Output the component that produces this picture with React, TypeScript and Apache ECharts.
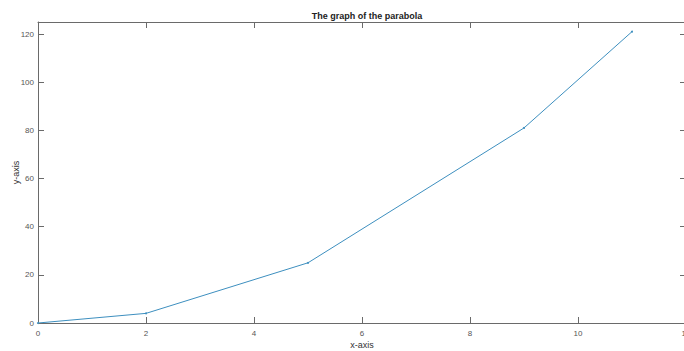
import React, { useEffect, useRef } from "react";
import * as echarts from "echarts";

const xValues = [0, 2, 5, 9, 11];
const yValues = [0, 4, 25, 81, 121];
const titleText = "The graph of the parabola";
const xName = "x-axis";
const yName = "y-axis";

export default function App() {
  const ref = useRef<HTMLDivElement>(null);
  useEffect(() => {
    if (!ref.current) return;
    const chart = echarts.init(ref.current, undefined, { renderer: "svg" });
    const axisLine = { show: true, onZero: false, lineStyle: { color: "#6a6a6a", width: 1 } };
    const tick = { show: true, inside: true, length: 6, lineStyle: { color: "#6a6a6a", width: 1 } };
    const font = "Liberation Sans, Arial, Helvetica, sans-serif";
    chart.setOption({
      animation: false,
      backgroundColor: "#ffffff",
      title: {
        text: titleText,
        left: 362,
        top: 6,
        textAlign: "center",
        textStyle: { fontSize: 9, fontWeight: "bold", color: "#222", fontFamily: font },
      },
      grid: {
        left: 38,
        top: 22,
        width: 648,
        height: 301,
        containLabel: false,
        outerBoundsMode: "none",
      },
      xAxis: [
        {
          type: "value",
          min: 0,
          max: 12,
          interval: 2,
          position: "bottom",
          axisLine,
          axisTick: tick,
          splitLine: { show: false },
          axisLabel: { fontSize: 8, color: "#555", margin: 6, fontFamily: font },
          name: xName,
          nameLocation: "middle",
          nameGap: 17,
          nameMoveOverlap: false,
          nameTextStyle: { fontSize: 9, color: "#333", fontFamily: font },
        },
        {
          type: "value",
          min: 0,
          max: 12,
          interval: 2,
          position: "top",
          axisLine,
          axisTick: tick,
          splitLine: { show: false },
          axisLabel: { show: false },
        },
      ],
      yAxis: [
        {
          type: "value",
          min: 0,
          max: 125,
          interval: 20,
          position: "left",
          axisLine,
          axisTick: tick,
          splitLine: { show: false },
          axisLabel: { fontSize: 8, color: "#555", margin: 4, fontFamily: font, showMaxLabel: false },
          name: yName,
          nameLocation: "middle",
          nameGap: 18,
          nameMoveOverlap: false,
          nameTextStyle: { fontSize: 9, color: "#333", fontFamily: font },
        },
        {
          type: "value",
          min: 0,
          max: 125,
          interval: 20,
          position: "right",
          axisLine,
          axisTick: tick,
          splitLine: { show: false },
          axisLabel: { show: false },
        },
      ],
      series: [
        {
          type: "line",
          data: xValues.map((x, i) => [x, yValues[i]]),
          xAxisIndex: 0,
          yAxisIndex: 0,
          symbol: "circle",
          symbolSize: 2,
          showSymbol: true,
          lineStyle: { color: "#3d8fbf", width: 1 },
          itemStyle: { color: "#3d8fbf" },
        },
      ],
    });
    return () => chart.dispose();
  }, []);
  return (
    <div
      ref={ref}
      style={{ position: "absolute", left: 0, top: 0, width: 684, height: 351, overflow: "hidden" }}
    />
  );
}
